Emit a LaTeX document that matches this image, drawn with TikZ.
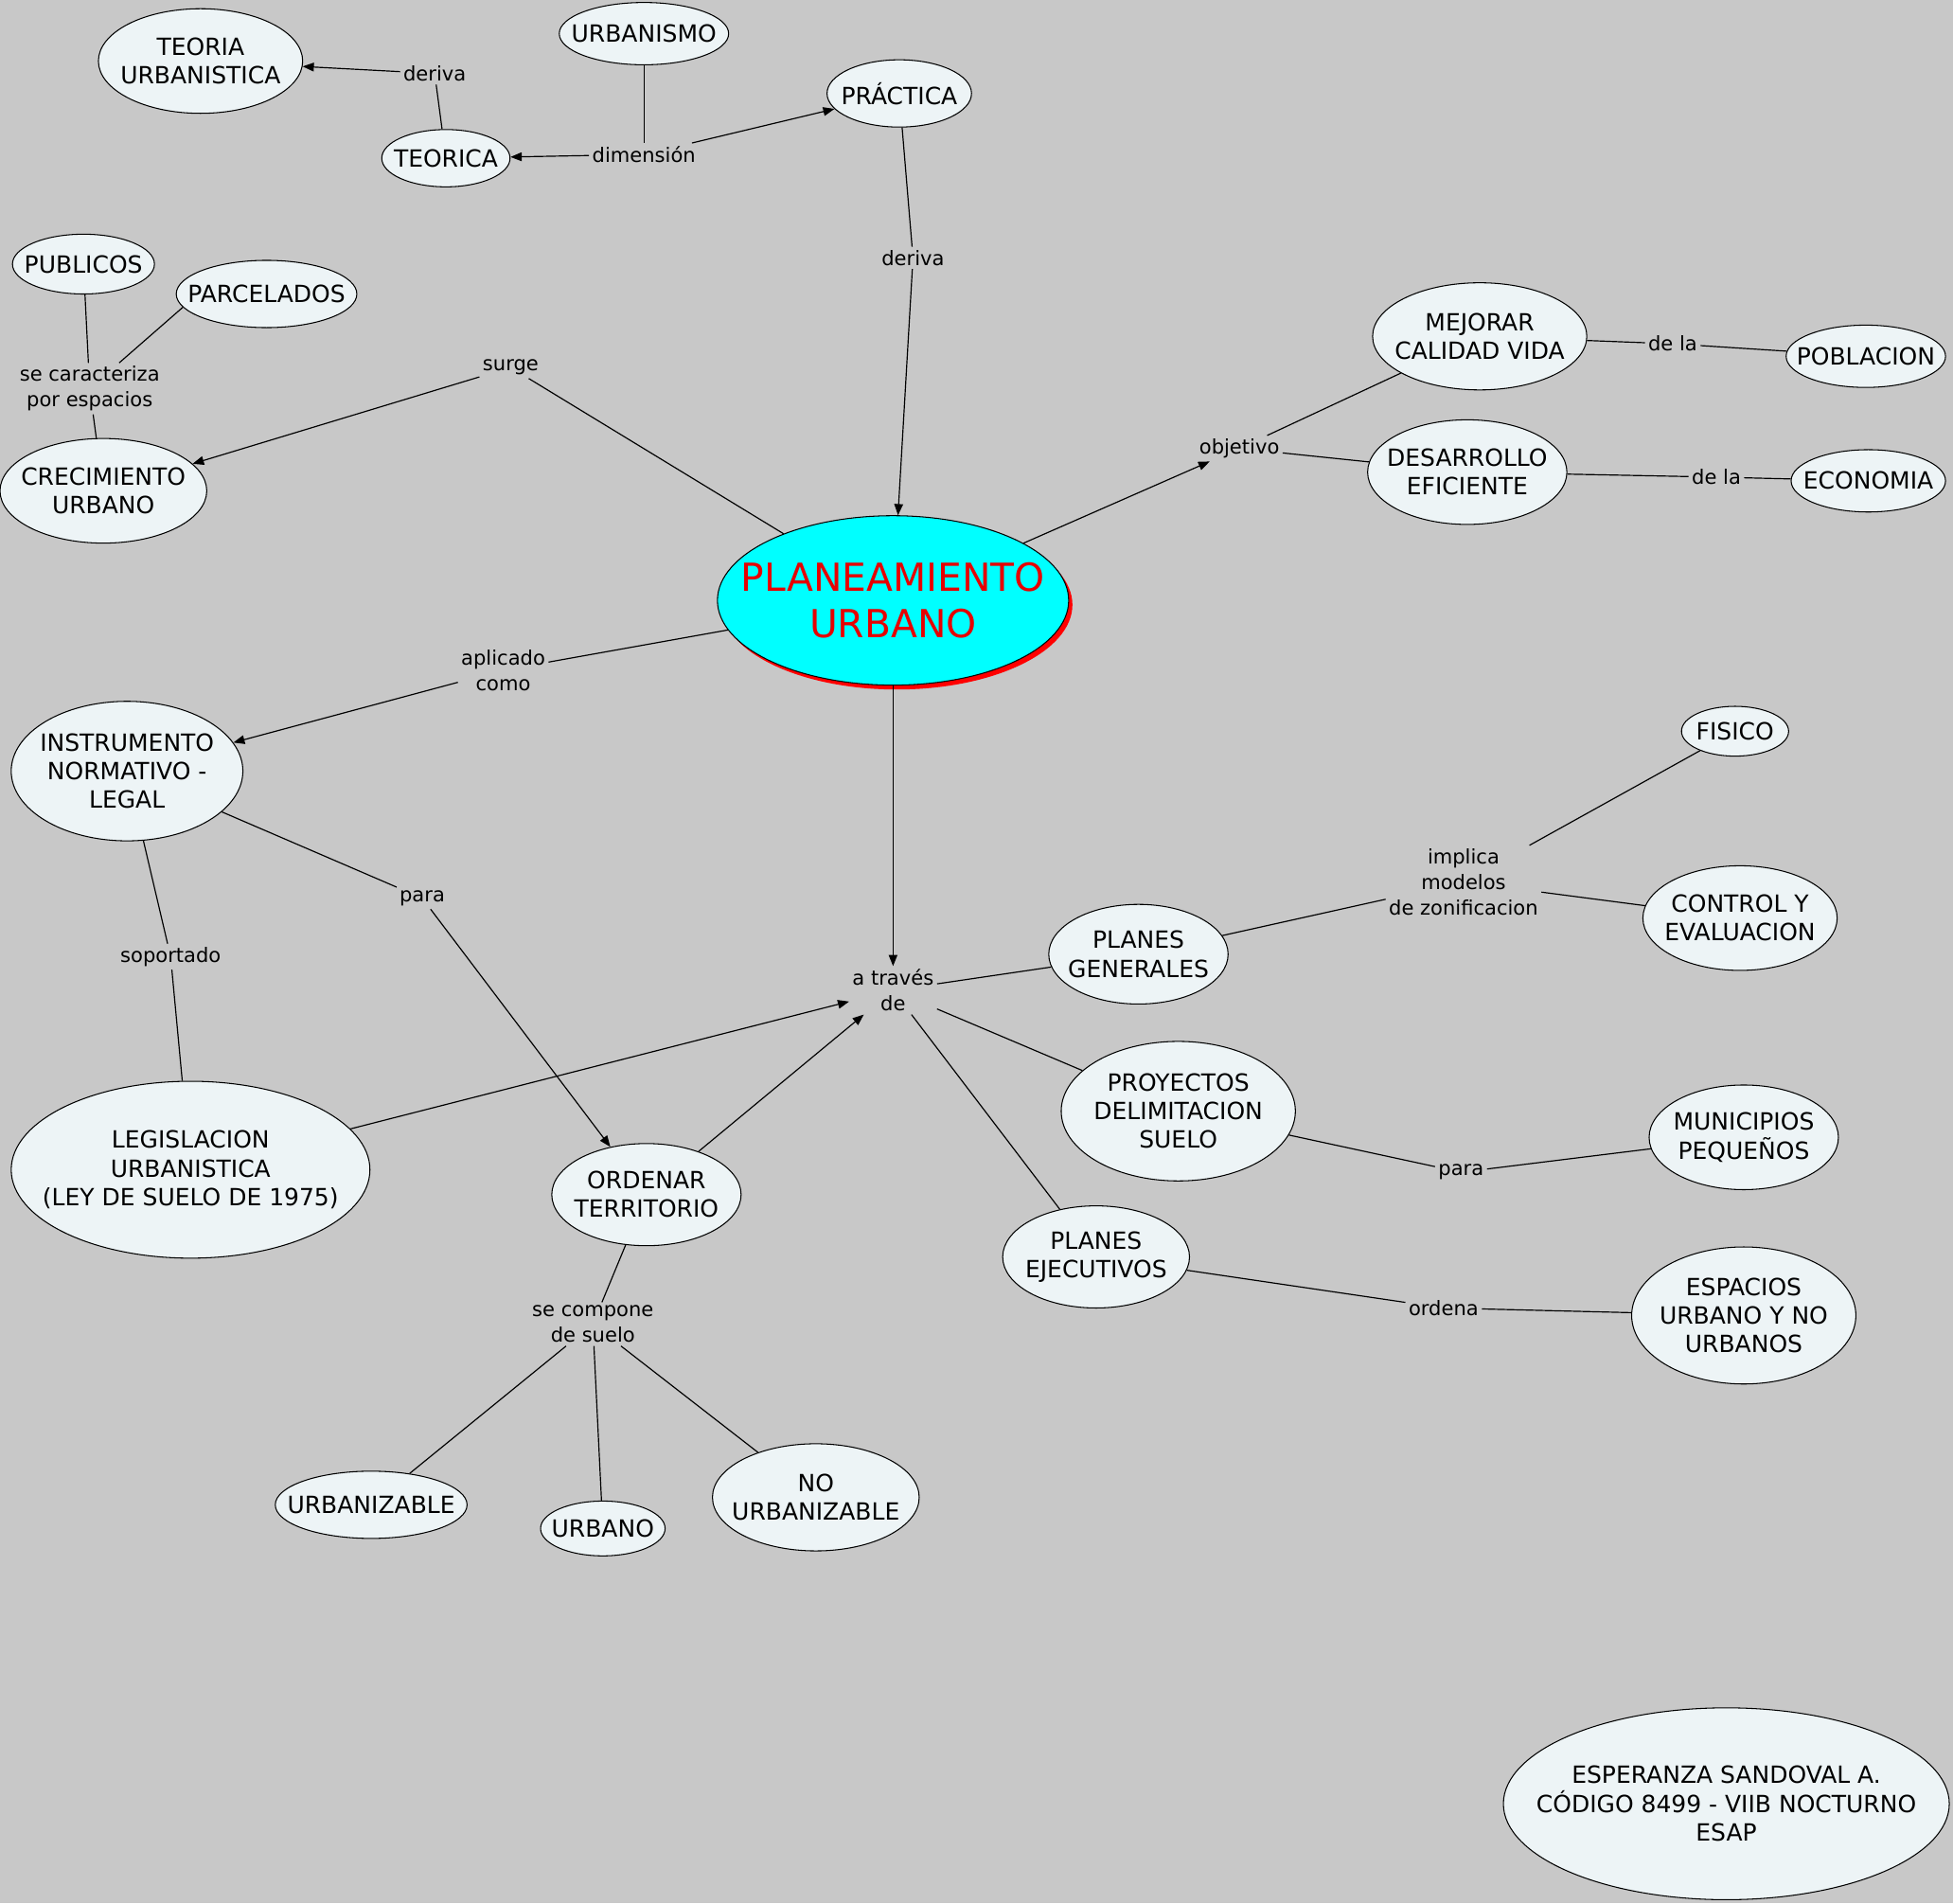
\documentclass[tikz,border=0pt]{standalone}
\usepackage{fontspec}
\setmainfont{DejaVu Sans}
\usetikzlibrary{shapes.geometric,arrows.meta,shadows}
\definecolor{bg}{RGB}{200,200,200}
\definecolor{cfill}{RGB}{237,244,246}
\definecolor{ccyan}{RGB}{0,255,255}
\definecolor{cred}{RGB}{230,0,0}
\tikzset{
 cpt/.style={ellipse, draw=black, line width=0.8pt, fill=cfill, inner sep=0pt},
 ctext/.style={align=center, font=\fontsize{19}{23}\selectfont, inner sep=0pt},
 lbl/.style={align=center, font=\fontsize{16}{20.5}\selectfont, inner sep=2.5pt},
 con/.style={line width=0.9pt, draw=black},
 arr/.style={con, -{Triangle[length=9pt,width=7pt]}},
}
\newcommand\mkconcept[6]{%
 \node[cpt, minimum width=#4pt, minimum height=#5pt] (#1) at (#2,#3) {};
 \node[ctext] (#1t) at (#1.center) {#6};}
\begin{document}
\begin{tikzpicture}[x=1pt,y=-1pt]
\fill[bg] (0,0) rectangle (1568,1528);
\useasboundingbox (0,0) rectangle (1568,1528);

% concepts
\mkconcept{teoriaurb}{161}{49}{164}{84}{TEORIA\\URBANISTICA}
\mkconcept{urbanismo}{517}{27}{136}{50}{URBANISMO}
\mkconcept{practica}{722}{75}{116}{54}{PRÁCTICA}
\mkconcept{teorica}{358}{127}{103}{46}{TEORICA}
\mkconcept{publicos}{67}{212}{114}{48}{PUBLICOS}
\mkconcept{parcelados}{214}{236}{145}{54}{PARCELADOS}
\mkconcept{crecimiento}{83}{394}{166}{84}{CRECIMIENTO\\URBANO}
\node[ellipse, draw=black, line width=0.8pt, fill=ccyan, minimum width=282pt, minimum height=136pt, inner sep=0pt,
  drop shadow={shadow xshift=3pt, shadow yshift=-3.5pt, fill=red, opacity=1}] (plan) at (717,482) {};
\node[align=center, font=\fontsize{31}{37}\selectfont, text=cred, inner sep=0pt] (plant) at (plan.center) {PLANEAMIENTO\\URBANO};
\mkconcept{mejorar}{1188}{270}{172}{86}{MEJORAR\\CALIDAD VIDA}
\mkconcept{poblacion}{1498}{286}{128}{50}{POBLACION}
\mkconcept{desarrollo}{1178}{379}{160}{84}{DESARROLLO\\EFICIENTE}
\mkconcept{economia}{1500}{386}{124}{50}{ECONOMIA}
\mkconcept{instrumento}{102}{619}{186}{112}{INSTRUMENTO\\NORMATIVO -\\LEGAL}
\mkconcept{legislacion}{153}{939}{288}{142}{LEGISLACION\\URBANISTICA\\(LEY DE SUELO DE 1975)}
\mkconcept{ordenar}{519}{959}{152}{82}{ORDENAR\\TERRITORIO}
\mkconcept{urbanizable}{298}{1208}{154}{54}{URBANIZABLE}
\mkconcept{urbano}{484}{1227}{100}{44}{URBANO}
\mkconcept{nourb}{655}{1202}{166}{86}{NO\\URBANIZABLE}
\mkconcept{pgen}{914}{766}{144}{80}{PLANES\\GENERALES}
\mkconcept{fisico}{1393}{587}{86}{40}{FISICO}
\mkconcept{control}{1397}{737}{156}{84}{CONTROL Y\\EVALUACION}
\mkconcept{proyectos}{946}{892}{188}{112}{PROYECTOS\\DELIMITACION\\SUELO}
\mkconcept{municipios}{1400}{913}{152}{84}{MUNICIPIOS\\PEQUEÑOS}
\mkconcept{pejec}{880}{1009}{150}{82}{PLANES\\EJECUTIVOS}
\mkconcept{espacios}{1400}{1056}{180}{110}{ESPACIOS\\URBANO Y NO\\URBANOS}
\mkconcept{esap}{1386}{1448}{358}{154}{ESPERANZA SANDOVAL A.\\CÓDIGO 8499 - VIIB NOCTURNO\\ESAP}

% linking phrases
\node[lbl] (lderiva1) at (349,59) {deriva};
\node[lbl] (ldim) at (517,124) {dimensión};
\node[lbl] (lderiva2) at (733,207) {deriva};
\node[lbl] (lcar) at (72,312) {se caracteriza\\por espacios};
\node[lbl] (lsurge) at (410,295) {surge};
\node[lbl] (lobj) at (995,360) {objetivo};
\node[lbl] (ldela1) at (1343,276) {de la};
\node[lbl] (ldela2) at (1378,383) {de la};
\node[lbl] (lapl) at (404,538) {aplicado\\como};
\node[lbl] (lpara1) at (339,721) {para};
\node[lbl] (lsop) at (137,768) {soportado};
\node[lbl] (ltraves) at (717,795) {a través\\de};
\node[lbl] (limp) at (1175,708) {implica\\modelos\\de zonificacion};
\node[lbl] (lpara2) at (1173,941) {para};
\node[lbl] (lord) at (1159,1050) {ordena};
\node[lbl] (lcomp) at (476,1063) {se compone\\de suelo};

% connectors
\draw[con] (teorica) -- (lderiva1);
\draw[arr] (lderiva1) -- (teoriaurb);
\draw[con] (urbanismo) -- (ldim);
\draw[arr] (ldim) -- (teorica);
\draw[arr] (ldim) -- (practica);
\draw[con] (practica) -- (lderiva2);
\draw[arr] (lderiva2) -- (plan);
\draw[con] (plan) -- (lsurge);
\draw[arr] (lsurge) -- (crecimiento);
\draw[con] (crecimiento) -- (lcar);
\draw[con] (lcar) -- (publicos);
\draw[con] (lcar) -- (parcelados.189);
\draw[arr] (plan) -- (lobj);
\draw[con] (lobj) -- (mejorar);
\draw[con] (lobj) -- (desarrollo);
\draw[con] (mejorar) -- (ldela1);
\draw[con] (ldela1) -- (poblacion);
\draw[con] (desarrollo) -- (ldela2);
\draw[con] (ldela2) -- (economia);
\draw[con] (plan) -- (lapl);
\draw[arr] (lapl) -- (instrumento);
\draw[arr] (plan) -- (ltraves);
\draw[con] (instrumento) -- (lpara1);
\draw[arr] (lpara1) -- (ordenar);
\draw[con] (instrumento) -- (lsop);
\draw[con] (lsop) -- (legislacion);
\draw[arr] (legislacion) -- (ltraves);
\draw[arr] (ordenar) -- (ltraves);
\draw[con] (ltraves) -- (pgen);
\draw[con] (ltraves) -- (proyectos);
\draw[con] (ltraves) -- (pejec);
\draw[con] (pgen) -- (limp);
\draw[con] (limp) -- (fisico);
\draw[con] (limp) -- (control);
\draw[con] (proyectos) -- (lpara2);
\draw[con] (lpara2) -- (municipios);
\draw[con] (pejec) -- (lord);
\draw[con] (lord) -- (espacios);
\draw[con] (ordenar) -- (lcomp);
\draw[con] (lcomp) -- (urbanizable);
\draw[con] (lcomp) -- (urbano);
\draw[con] (lcomp) -- (nourb);
\end{tikzpicture}
\end{document}
